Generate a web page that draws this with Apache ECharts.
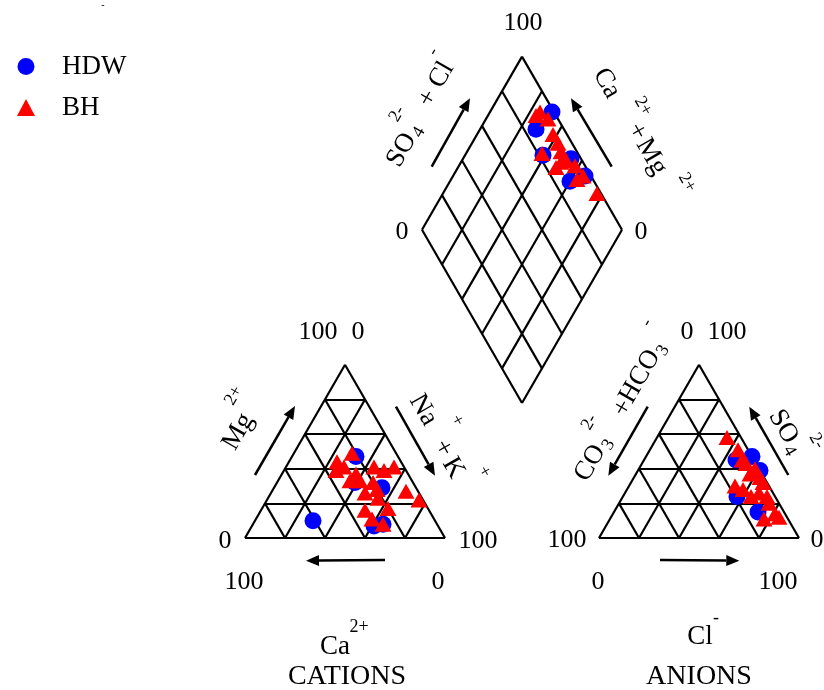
<!DOCTYPE html>
<html>
<head>
<meta charset="utf-8">
<script src="https://cdn.jsdelivr.net/npm/echarts@6/dist/echarts.min.js"></script>
<style>
  html, body { margin: 0; padding: 0; background: #fff; }
  #chart { width: 824px; height: 690px; }
</style>
</head>
<body>
<div id="chart"></div>
<script>
// cation triangle, % meq: Mg2+ and Na+ + K+ (Ca2+ is the rest)
var hdwCatMg  = [10, 47, 32, 29, 7, 8];
var hdwCatNaK = [29, 32, 39, 54, 61, 65];
var bhCatMg  = [49, 44, 41, 39, 37, 33, 33, 41, 39, 41, 32, 28, 23, 27, 22, 16, 17, 11, 8, 26];
var bhCatNaK = [29, 24, 29, 26, 37, 36, 41, 44, 50, 54, 48, 52, 55, 67, 76, 52, 63, 58, 65, 47];

// anion triangle, % meq: SO4 2- and Cl- (CO3 + HCO3 is the rest)
var hdwAnSO4 = [47, 45, 24, 15, 39];
var hdwAnCl  = [53, 46, 57, 72, 61];
var bhAnSO4 = [58, 51, 43, 37, 35, 32, 30, 28, 24, 26, 20, 14, 11, 12, 45, 40, 24];
var bhAnCl  = [35, 44, 52, 57, 63, 66, 53, 58, 64, 67, 75, 81, 77, 84, 49, 58, 72];

// diamond, %: Ca + Mg and SO4 + Cl
var hdwDiaCaMg  = [69, 72, 61, 40, 34, 46];
var hdwDiaSO4Cl = [99, 86, 82, 88, 97, 95];
var bhDiaCaMg  = [75, 76, 69, 62, 57, 62, 53, 48, 42, 35, 37, 23, 50, 51];
var bhDiaSO4Cl = [93, 90, 95, 93, 93, 82, 92, 92, 95, 96, 92, 98, 89, 85];

// tick labels
var diamondTicks = ['100', '0', '0'];
var cationTicks = ['100', '0', '0', '100', '100', '0'];
var anionTicks = ['0', '100', '100', '0', '0', '100'];

var S = Math.sqrt(3) / 2;
var ANION_X = 177;          // left corner of anion triangle
var DIA_B = [138.5, 67.5];  // bottom corner of diamond

function catXY(mg, nak) { return [nak + mg / 2, mg * S]; }
function anXY(so4, cl) { return [ANION_X + cl + so4 / 2, so4 * S]; }
function diaXY(camg, so4cl) {
  var a = camg / 100, b = so4cl / 100;
  return [DIA_B[0] + (b - a) * 50, DIA_B[1] + (a + b) * 100 * S];
}

function triSegs(ox) {
  var segs = [];
  for (var k = 0; k <= 5; k++) {
    var f = k / 5;
    if (k < 5) {
      segs.push([[ox + 50 * f, 100 * S * f], [ox + 100 - 50 * f, 100 * S * f]]);
      segs.push([[ox + 100 * f, 0], [ox + 100 * f + 50 * (1 - f), 100 * S * (1 - f)]]);
    }
    if (k > 0) {
      segs.push([[ox + 100 * f, 0], [ox + 50 * f, 100 * S * f]]);
    }
  }
  return segs;
}
function diaSegs() {
  var segs = [];
  for (var k = 0; k <= 5; k++) {
    var f = k / 5;
    var p = [DIA_B[0] - 50 * f, DIA_B[1] + 100 * S * f];
    segs.push([p, [p[0] + 50, p[1] + 100 * S]]);
    var q = [DIA_B[0] + 50 * f, DIA_B[1] + 100 * S * f];
    segs.push([q, [q[0] - 50, q[1] + 100 * S]]);
  }
  return segs;
}

var hdwPts = [], bhPts = [];
hdwCatMg.forEach(function (v, i) { hdwPts.push(catXY(v, hdwCatNaK[i])); });
bhCatMg.forEach(function (v, i) { bhPts.push(catXY(v, bhCatNaK[i])); });
hdwAnSO4.forEach(function (v, i) { hdwPts.push(anXY(v, hdwAnCl[i])); });
bhAnSO4.forEach(function (v, i) { bhPts.push(anXY(v, bhAnCl[i])); });
hdwDiaCaMg.forEach(function (v, i) { hdwPts.push(diaXY(v, hdwDiaSO4Cl[i])); });
bhDiaCaMg.forEach(function (v, i) { bhPts.push(diaXY(v, bhDiaSO4Cl[i])); });

var gridSegs = triSegs(0).concat(triSegs(ANION_X), diaSegs());

var FONT = '"Liberation Serif", "Times New Roman", serif';
var BIG = 27, SUP = 18, TICK = 26;

function txt(t, x, y, size) {
  return {
    type: 'text', x: x, y: y, silent: true,
    style: {
      text: t, font: size + 'px ' + FONT, fill: '#000',
      textAlign: 'center', textVerticalAlign: 'middle', verticalAlign: 'middle'
    }
  };
}
// rotated axis title: parts are [text, x along, y across, size]
function label(cx, cy, deg, parts) {
  return {
    type: 'group', x: cx, y: cy, rotation: deg * Math.PI / 180,
    children: parts.map(function (p) { return txt(p[0], p[1], p[2], p[3]); })
  };
}
function arrow(x1, y1, x2, y2) {
  var dx = x2 - x1, dy = y2 - y1, len = Math.sqrt(dx * dx + dy * dy);
  var ux = dx / len, uy = dy / len, bx = x2 - 13 * ux, by = y2 - 13 * uy;
  return [
    { type: 'line', silent: true, shape: { x1: x1, y1: y1, x2: bx, y2: by },
      style: { stroke: '#000', lineWidth: 2.5 } },
    { type: 'polygon', silent: true,
      shape: { points: [[x2, y2], [bx - 5.5 * uy, by + 5.5 * ux], [bx + 5.5 * uy, by - 5.5 * ux]] },
      style: { fill: '#000' } }
  ];
}

var graphics = [
  txt(diamondTicks[0], 523, 23, TICK),
  txt(diamondTicks[1], 402, 232, TICK),
  txt(diamondTicks[2], 641, 232, TICK),
  txt(cationTicks[0], 318, 332, TICK),
  txt(cationTicks[1], 358, 332, TICK),
  txt(cationTicks[2], 225, 541, TICK),
  txt(cationTicks[3], 478, 541, TICK),
  txt(cationTicks[4], 244, 582, TICK),
  txt(cationTicks[5], 438, 582, TICK),
  txt(anionTicks[0], 687, 332, TICK),
  txt(anionTicks[1], 727, 332, TICK),
  txt(anionTicks[2], 567, 540, TICK),
  txt(anionTicks[3], 817, 540, TICK),
  txt(anionTicks[4], 598, 582, TICK),
  txt(anionTicks[5], 778, 582, TICK),

  label(401.7, 150, 60, [['SO', 0, 0, BIG], ['4', 24, 6, SUP], ['2-', 29, -22, SUP],
    ['+', 58, -3, BIG], ['Cl', 85, -3, BIG], ['-', 101, -22, SUP]]),
  label(606.7, 83.3, -60, [['Ca', 0, 0, BIG], ['2+', 38, -20, SUP],
    ['+', 57, -2, BIG], ['Mg', 86, -2, BIG], ['2+', 126, -20, SUP]]),
  label(238.3, 431.7, 60, [['Mg', 0, 0, BIG], ['2+', 29, -22, SUP]]),
  label(423.3, 410, -60, [['Na', 0, 0, BIG], ['+', 26, -24, SUP],
    ['+', 43, 2, BIG], ['K', 65, 3, BIG], ['+', 84, -22, SUP]]),
  label(585, 460, 60, [['CO', 0, 6, BIG], ['3', 25, 13, SUP], ['2-', 35, -15, SUP],
    ['+', 64, 7, BIG], ['HCO', 100, 6, BIG], ['3', 134, 13, SUP], ['-', 150, -15, SUP]]),
  label(783.3, 426.7, -60, [['SO', 0, 0, BIG], ['4', 24, 7, SUP], ['2-', 29, -22, SUP]]),

  txt('Ca', 335, 647, BIG), txt('2+', 359, 627, SUP), txt('CATIONS', 347, 677, 28),
  txt('Cl', 700, 637, BIG), txt('-', 716, 618, SUP), txt('ANIONS', 699, 677, 28),
  txt('-', 103, 5, 10)
];
[[431.7, 166.7, 470, 98.3], [611.7, 166.7, 571, 98.3],
 [255, 475, 295, 406], [396, 406.7, 435, 475.7], [385, 560, 306, 560.7],
 [647.7, 406.7, 608.3, 475.7], [788.3, 475, 749.3, 406.7], [660, 560, 739.3, 560.7]
].forEach(function (a) { graphics = graphics.concat(arrow(a[0], a[1], a[2], a[3])); });

var chart = echarts.init(document.getElementById('chart'), null, { renderer: 'canvas' });
chart.setOption({
  animation: false,
  backgroundColor: '#fff',
  grid: { left: 0, right: 0, top: 0, bottom: 0, containLabel: false },
  xAxis: { type: 'value', min: -122.5, max: 289.5, show: false },
  yAxis: { type: 'value', min: -76, max: 269, show: false },
  legend: {
    orient: 'vertical', left: 12, top: 48, itemWidth: 18, itemHeight: 17, itemGap: 14,
    data: [{ name: 'HDW', icon: 'circle' }, { name: 'BH', icon: 'triangle' }],
    textStyle: { fontFamily: FONT, fontSize: 27, lineHeight: 26, color: '#000', padding: [0, 0, 0, 22] }
  },
  graphic: graphics,
  series: [
    {
      type: 'lines', coordinateSystem: 'cartesian2d', polyline: false, silent: true, z: 2,
      lineStyle: { color: '#000', width: 2.2, opacity: 1 },
      data: gridSegs.map(function (s) { return { coords: s }; })
    },
    {
      name: 'HDW', type: 'scatter', symbol: 'circle', symbolSize: 17, z: 3,
      itemStyle: { color: '#0000ff', opacity: 1 }, data: hdwPts
    },
    {
      name: 'BH', type: 'scatter', symbol: 'triangle', symbolSize: [17, 15], z: 4,
      itemStyle: { color: '#ff0000', opacity: 1 }, data: bhPts
    }
  ]
});
</script>
</body>
</html>
